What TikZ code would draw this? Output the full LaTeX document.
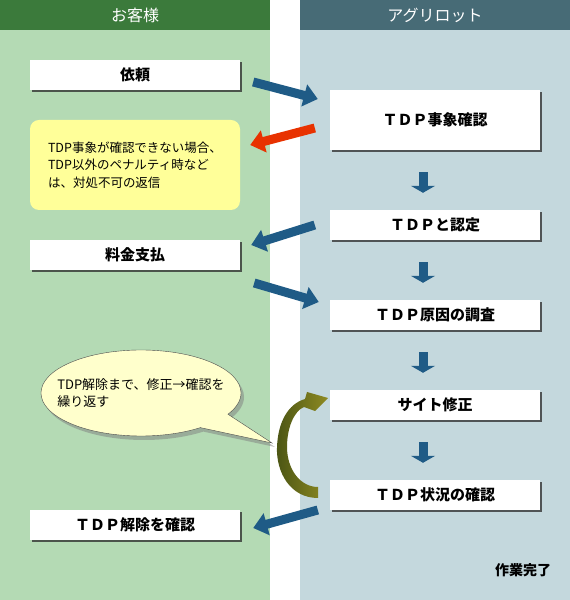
\documentclass[tikz,border=0pt]{standalone}
\usepackage{fontspec}
\setmainfont{Noto Sans CJK JP}
\usetikzlibrary{arrows.meta,shadows,shapes.callouts}
\definecolor{kyakuhead}{HTML}{3B7A3B}
\definecolor{kyakubody}{HTML}{B4DAB4}
\definecolor{agrihead}{HTML}{476B76}
\definecolor{agribody}{HTML}{C4D8DD}
\definecolor{notefill}{HTML}{FFFF99}
\definecolor{bubblefill}{HTML}{FFFFCC}
\definecolor{fatblue}{HTML}{1F5B86}
\definecolor{fatred}{HTML}{E83200}
\definecolor{olivedark}{HTML}{4B5514}
\definecolor{olivelight}{HTML}{8E8A22}
\begin{document}
\begin{tikzpicture}[x=1pt,y=1pt,
	headtext/.style={text=white,font=\fontsize{16}{18}\selectfont},
	stepbox/.style={fill=white,minimum width=210pt,minimum height=30pt,inner sep=0pt,
		font=\fontsize{15}{17}\selectfont\bfseries,
		drop shadow={shadow xshift=2pt,shadow yshift=-2pt,fill=black!80,opacity=.8}},
	notebox/.style={fill=notefill,rounded corners=9pt,minimum width=210pt,minimum height=90pt,
		inner sep=0pt,align=left,font=\fontsize{12.5}{17.5}\selectfont},
	fatarrow/.style={line width=9pt,-{Triangle[width=22pt,length=14pt]}},
	downarrow/.style={line width=9pt,fatblue,-{Triangle[width=24pt,length=7pt]}}]
	\useasboundingbox (0,0) rectangle (570,600);
	% lanes
	\fill[kyakuhead] (0,570) rectangle (270,600);
	\fill[kyakubody] (0,0) rectangle (270,570);
	\fill[agrihead] (300,570) rectangle (570,600);
	\fill[agribody] (300,0) rectangle (570,570);
	\node[headtext] (kyaku) at (135,585) {お客様};
	\node[headtext] (agri) at (435,585) {アグリロット};
	% steps
	\node[stepbox] (irai) at (135,525) {依頼};
	\node[stepbox,minimum height=60pt] (jisho) at (435,480) {ＴＤＰ事象確認};
	\node[notebox] (note) at (135,435) {TDP事象が確認できない場合、\\TDP以外のペナルティ時など\\は、対処不可の返信};
	\node[stepbox] (nintei) at (435,375) {ＴＤＰと認定};
	\node[stepbox] (shiharai) at (135,345) {料金支払};
	\node[stepbox] (chosa) at (435,285) {ＴＤＰ原因の調査};
	\node[stepbox] (shusei) at (435,195) {サイト修正};
	\node[stepbox] (jokyo) at (435,105) {ＴＤＰ状況の確認};
	\node[stepbox] (kaijo) at (135,75) {ＴＤＰ解除を確認};
	\node[font=\fontsize{14}{16}\selectfont\bfseries] (kanryo) at (523,30) {作業完了};
	% callout
	\node[ellipse callout,callout absolute pointer={(272,157)},callout pointer arc=24,
		fill=bubblefill,draw=black!70,minimum width=198pt,minimum height=86pt,
		inner xsep=-13pt,inner ysep=2pt,align=left,font=\fontsize{13}{17}\selectfont,
		drop shadow={shadow xshift=3pt,shadow yshift=-4pt,fill=black!50,opacity=.5}]
		(bubble) at (141,207) {TDP解除まで、修正→確認を\\繰り返す};
	% arrows
	\draw[fatarrow,fatblue] ([xshift=13,yshift=-7]irai.east) -- ([xshift=-12,yshift=21]jisho.west);
	\draw[fatarrow,fatred] ([xshift=-15,yshift=-8]jisho.west) -- ([xshift=10,yshift=20]note.east);
	\draw[fatarrow,fatblue] ([xshift=-15]nintei.west) -- ([xshift=11,yshift=10]shiharai.east);
	\draw[fatarrow,fatblue] ([xshift=14,yshift=-28]shiharai.east) -- ([xshift=-11,yshift=13]chosa.west);
	\draw[fatarrow,fatblue] ([xshift=-12,yshift=-15]jokyo.west) -- ([xshift=13,yshift=-3]kaijo.east);
	\foreach \a/\b in {jisho/nintei,nintei/chosa,chosa/shusei,shusei/jokyo}
		\draw[downarrow] ([xshift=-12,yshift=-22]\a.south) -- ([xshift=-12,yshift=17]\b.north);
	% loop back
	\shade[left color=olivedark,right color=olivelight] (318,102) .. controls (290,102) and (276,128) .. (277,153)
		.. controls (278,178) and (288,196) .. (305,201) -- (307,208) -- (328,202) -- (315,189) -- (304,193)
		.. controls (294,189) and (287,172) .. (287,153) .. controls (287,131) and (300,113) .. (318,113) -- cycle;
\end{tikzpicture}
\end{document}
